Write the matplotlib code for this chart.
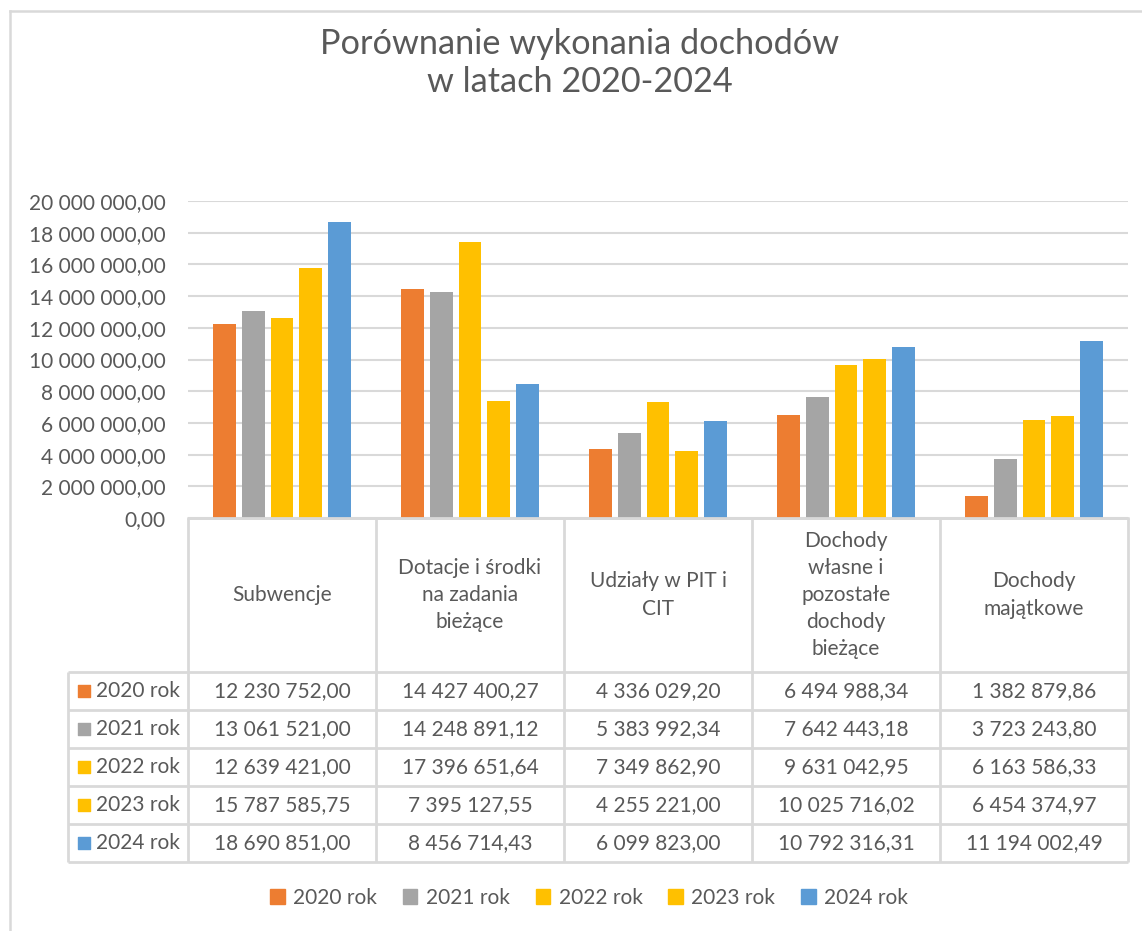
import matplotlib.pyplot as plt
from matplotlib.patches import Patch
from matplotlib.ticker import FuncFormatter
import numpy as np

plt.rcParams['font.family'] = ['Lato', 'DejaVu Sans']

# data
categories = ["Subwencje",
              "Dotacje i środki\nna zadania\nbieżące",
              "Udziały w PIT i\nCIT",
              "Dochody\nwłasne i\npozostałe\ndochody\nbieżące",
              "Dochody\nmajątkowe"]
years = ["2020 rok", "2021 rok", "2022 rok", "2023 rok", "2024 rok"]
v2020 = [12230752.00, 14427400.27, 4336029.20, 6494988.34, 1382879.86]
v2021 = [13061521.00, 14248891.12, 5383992.34, 7642443.18, 3723243.80]
v2022 = [12639421.00, 17396651.64, 7349862.90, 9631042.95, 6163586.33]
v2023 = [15787585.75, 7395127.55, 4255221.00, 10025716.02, 6454374.97]
v2024 = [18690851.00, 8456714.43, 6099823.00, 10792316.31, 11194002.49]
series = [v2020, v2021, v2022, v2023, v2024]
colors = ["#ED7D31", "#A5A5A5", "#FFC000", "#FFC000", "#5B9BD5"]

TXT = "#595959"
GRID = "#d9d9d9"
W, H = 1142, 931


def fmt(v, pos=None):
    s = f"{v:,.2f}"
    return s.replace(",", " ").replace(".", ",")


fig = plt.figure(figsize=(W / 100, H / 100), dpi=100)

# chart frame (left and top visible)
fig.add_artist(plt.Line2D([10 / W, 10 / W], [0, 1 - 11 / H], color=GRID, lw=1.8))
fig.add_artist(plt.Line2D([10 / W, 1], [1 - 11 / H, 1 - 11 / H], color=GRID, lw=1.8))

fig.text(580 / W, 1 - 63 / H, "Porównanie wykonania dochodów\nw latach 2020-2024",
         ha="center", va="center", fontsize=24.7, color=TXT, linespacing=1.22)

# bars
ax = fig.add_axes([188 / W, 1 - 518 / H, 940 / W, 317 / H])
x = np.arange(len(categories))
step = 0.154
bw = 0.122
for i, (vals, c) in enumerate(zip(series, colors)):
    ax.bar(x + (i - 2) * step, vals, width=bw, color=c, zorder=3)
ax.set_xlim(-0.5, len(categories) - 0.5)
ax.set_ylim(0, 20000000)
ax.set_yticks(np.arange(0, 20000001, 2000000))
ax.yaxis.set_major_formatter(FuncFormatter(fmt))
ax.tick_params(axis="y", length=0, pad=16, labelsize=15, labelcolor=TXT)
ax.set_xticks([])
ax.grid(axis="y", color=GRID, lw=1.5, zorder=0)
for s in ["top", "right", "left"]:
    ax.spines[s].set_visible(False)
ax.spines["bottom"].set_color(GRID)
ax.spines["bottom"].set_linewidth(1.8)

# data table
hh = 154 / 38
tab = fig.add_axes([188 / W, 1 - 862 / H, 940 / W, 344 / H])
tab.set_xlim(-0.5, len(categories) - 0.5)
tab.set_ylim(hh + len(years), 0)
tab.axis("off")
lab_left = -0.5 - 120 / 188

for j, cat in enumerate(categories):
    tab.text(j, hh / 2, cat, ha="center", va="center", fontsize=15, color=TXT,
             linespacing=1.45)
for i, (yr, vals, c) in enumerate(zip(years, series, colors)):
    yc = hh + i + 0.5
    tab.scatter([-0.5 - 104 / 188], [yc], marker="s", s=70, color=c, clip_on=False)
    tab.text(-0.5 - 92 / 188, yc, yr, ha="left", va="center", fontsize=15, color=TXT)
    for j, v in enumerate(vals):
        tab.text(j, yc, fmt(v), ha="center", va="center", fontsize=15, color=TXT)

lk = dict(color=GRID, lw=2, clip_on=False)
tab.hlines(0, -0.5, len(categories) - 0.5, **lk)
tab.hlines([hh + i for i in range(len(years) + 1)], lab_left, len(categories) - 0.5, **lk)
tab.vlines([j - 0.5 for j in range(len(categories) + 1)], 0, hh + len(years), **lk)
tab.vlines(lab_left, hh, hh + len(years), **lk)

handles = [Patch(color=c) for c in colors]
fig.legend(handles, years, loc="center", bbox_to_anchor=(589 / W, 1 - 898 / H),
           ncol=5, frameon=False, fontsize=15, labelcolor=TXT,
           handlelength=0.7, handleheight=0.7, handletextpad=0.4, columnspacing=1.25)

fig.savefig("out.png", dpi=100)
